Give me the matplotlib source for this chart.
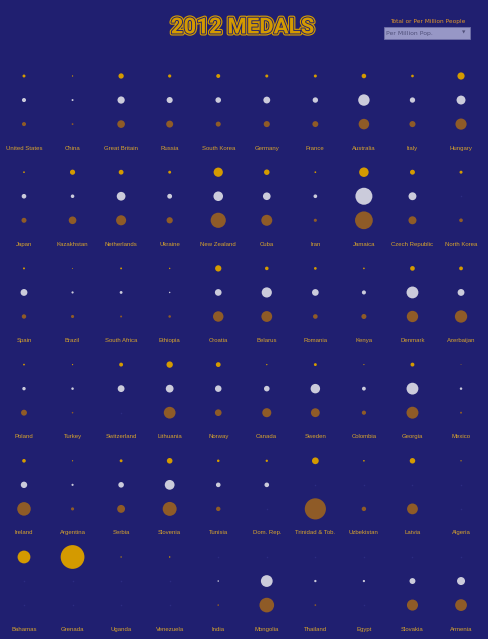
"""plot.py - 2012 medals per million people, small multiples of dots"""

# === IMPORTS ===
import matplotlib

matplotlib.use("Agg")
import matplotlib.patheffects as pe
import matplotlib.pyplot as plt
from matplotlib.patches import Rectangle

# === DATA ===
COUNTRIES = [
    "United States", "China", "Great Britain", "Russia", "South Korea",
    "Germany", "France", "Australia", "Italy", "Hungary",
    "Japan", "Kazakhstan", "Netherlands", "Ukraine", "New Zealand",
    "Cuba", "Iran", "Jamaica", "Czech Republic", "North Korea",
    "Spain", "Brazil", "South Africa", "Ethiopia", "Croatia",
    "Belarus", "Romania", "Kenya", "Denmark", "Azerbaijan",
    "Poland", "Turkey", "Switzerland", "Lithuania", "Norway",
    "Canada", "Sweden", "Colombia", "Georgia", "Mexico",
    "Ireland", "Argentina", "Serbia", "Slovenia", "Tunisia",
    "Dom. Rep.", "Trinidad & Tob.", "Uzbekistan", "Latvia", "Algeria",
    "Bahamas", "Grenada", "Uganda", "Venezuela", "India",
    "Mongolia", "Thailand", "Egypt", "Slovakia", "Armenia",
]

# medals per million people
GOLD = [
    0.146, 0.028, 0.46, 0.17, 0.26, 0.15, 0.15, 0.34, 0.12, 0.85,
    0.05, 0.44, 0.38, 0.14, 1.40, 0.50, 0.05, 1.48, 0.40, 0.15,
    0.065, 0.015, 0.058, 0.033, 0.65, 0.21, 0.12, 0.047, 0.36, 0.24,
    0.052, 0.027, 0.25, 0.67, 0.38, 0.03, 0.14, 0.021, 0.25, 0.009,
    0.22, 0.024, 0.14, 0.52, 0.11, 0.09, 0.75, 0.045, 0.50, 0.026,
    2.70, 9.30, 0.028, 0.034, 0.0, 0.0, 0.0, 0.0, 0.0, 0.0,
]
SILVER = [
    0.085, 0.02, 0.27, 0.19, 0.16, 0.24, 0.15, 0.67, 0.145, 0.41,
    0.11, 0.065, 0.39, 0.12, 0.47, 0.30, 0.07, 1.48, 0.32, 0.0,
    0.24, 0.025, 0.042, 0.011, 0.23, 0.53, 0.23, 0.085, 0.72, 0.24,
    0.06, 0.033, 0.24, 0.31, 0.22, 0.16, 0.46, 0.075, 0.72, 0.032,
    0.21, 0.024, 0.16, 0.49, 0.11, 0.11, 0.0, 0.0, 0.0, 0.0,
    0.0, 0.0, 0.0, 0.0, 0.012, 0.71, 0.028, 0.026, 0.18, 0.33,
]
BRONZE = [
    0.085, 0.017, 0.30, 0.25, 0.13, 0.19, 0.18, 0.57, 0.19, 0.64,
    0.13, 0.30, 0.52, 0.20, 1.18, 0.62, 0.05, 1.62, 0.33, 0.07,
    0.10, 0.05, 0.02, 0.033, 0.56, 0.60, 0.11, 0.13, 0.66, 0.78,
    0.18, 0.013, 0.0, 0.71, 0.23, 0.42, 0.40, 0.09, 0.73, 0.02,
    0.94, 0.05, 0.32, 1.0, 0.10, 0.0, 2.30, 0.10, 0.60, 0.0,
    0.0, 0.0, 0.0, 0.0, 0.014, 1.10, 0.015, 0.0, 0.63, 0.71,
]

# === STYLE ===
BG = "#201f70"
GOLD_C = "#d49a00"
SILVER_C = "#cbcbdb"
BRONZE_C = "#8f5b27"
LABEL_C = "#d8a42c"
N_COLS = 10

# marker area (pt^2) per unit of medals-per-million
SIZE_SCALE = {"gold": 31.5, "silver": 101.0, "bronze": 101.0}


def draw_medal_row(ax, values, offset, color, scale) -> None:
    xs, ys, sizes = [], [], []
    zx, zy = [], []
    for i, v in enumerate(values):
        col, row = i % N_COLS, i // N_COLS
        if v > 0:
            xs.append(col)
            ys.append(row * 4 + offset)
            sizes.append(v * scale)
        else:
            zx.append(col)
            zy.append(row * 4 + offset)
    ax.scatter(xs, ys, s=sizes, color=color, linewidths=0, zorder=3)
    # empty slots leave a faint mark
    ax.scatter(zx, zy, s=1.2, color="#2c2c82", linewidths=0, zorder=2)


def main() -> None:
    fig = plt.figure(figsize=(4.89, 6.39), dpi=100, facecolor=BG)
    ax = fig.add_axes([0, 0, 1, 1], facecolor=BG)
    ax.set_xlim(-0.494, 9.576)
    ax.set_ylim(23.41, -3.16)
    ax.axis("off")

    draw_medal_row(ax, GOLD, 0, GOLD_C, SIZE_SCALE["gold"])
    draw_medal_row(ax, SILVER, 1, SILVER_C, SIZE_SCALE["silver"])
    draw_medal_row(ax, BRONZE, 2, BRONZE_C, SIZE_SCALE["bronze"])

    for i, name in enumerate(COUNTRIES):
        col, row = i % N_COLS, i // N_COLS
        ax.text(col, row * 4 + 3, name, color=LABEL_C, fontsize=4.3,
                family="Liberation Sans", ha="center", va="center")

    # === TITLE ===
    fig.text(0.496, 0.957, "2012 MEDALS", color=GOLD_C, fontsize=16,
             fontweight="bold", family="Roboto",
             ha="center", va="center",
             path_effects=[pe.Stroke(linewidth=3.0, foreground=GOLD_C),
                           pe.Stroke(linewidth=1.3, foreground=BG),
                           pe.Normal()])

    # === DROPDOWN CONTROL ===
    fig.text(0.874, 0.967, "Total or Per Million People", color="#e0962a",
             fontsize=4.2, ha="center", va="center")
    box = Rectangle((384 / 489, 1 - 38.5 / 639), 86 / 489, 11 / 639,
                    transform=fig.transFigure, facecolor="#9797c6",
                    edgecolor="#7070a8", linewidth=0.6)
    fig.add_artist(box)
    fig.text(386 / 489, 1 - 33 / 639, "Per Million Pop.", color="#50507a",
             fontsize=4.4, ha="left", va="center")
    fig.text(464 / 489, 1 - 33 / 639, "\u25bc", color="#50507a",
             fontsize=3.2, ha="center", va="center")

    fig.savefig("out.png", dpi=100, facecolor=BG)
    plt.close(fig)


if __name__ == "__main__":
    main()
